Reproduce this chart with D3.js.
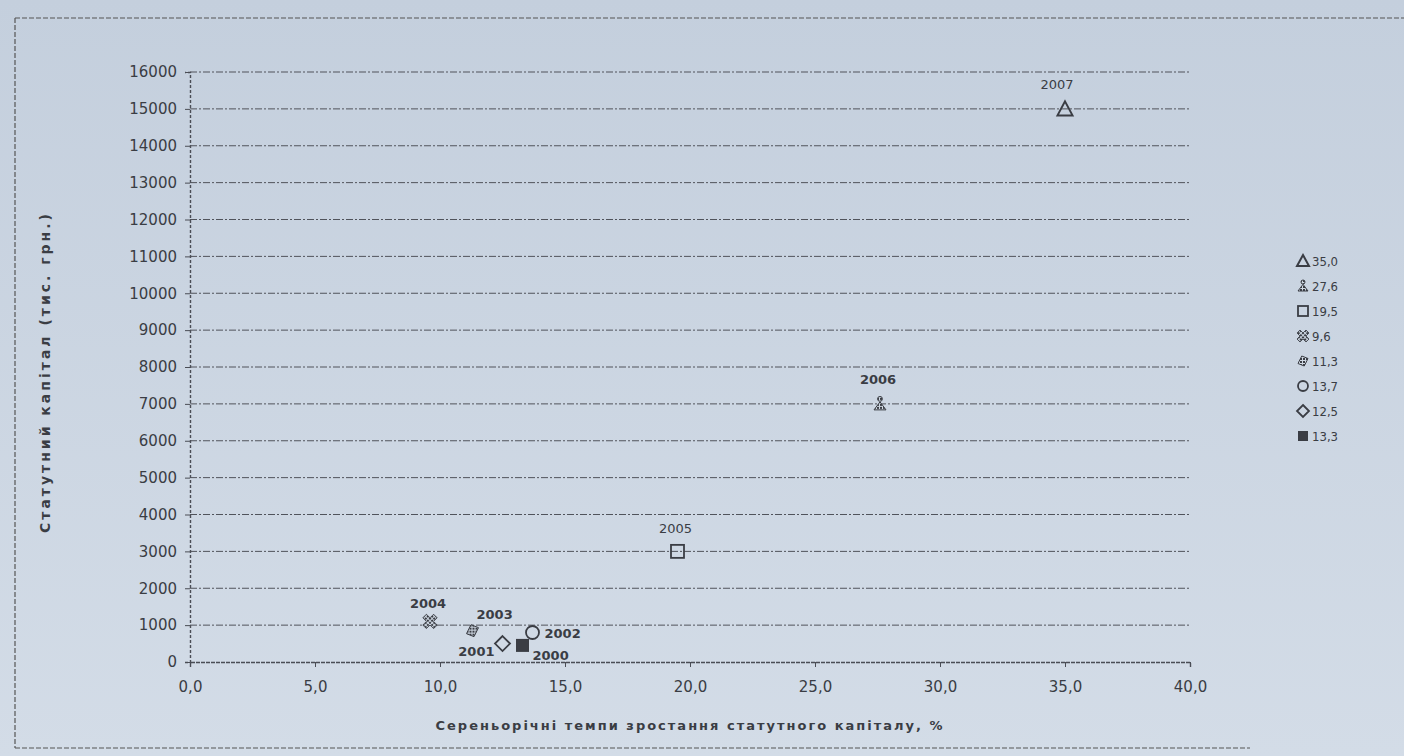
<!DOCTYPE html>
<html><head><meta charset="utf-8">
<script src="https://cdn.jsdelivr.net/npm/d3@7"></script>
<style>
html,body{margin:0;padding:0;background:#cdd6e2;}
svg{display:block;}
text{font-family:"DejaVu Sans",sans-serif;fill:#3a3d44;}
</style></head><body>
<svg id="c" width="1404" height="756"></svg>
<script>
const years = ["2000","2001","2002","2003","2004","2005","2006","2007"];
const growth = [13.3, 12.5, 13.7, 11.3, 9.6, 19.5, 27.6, 35.0];
const capital = [450, 500, 800, 850, 1100, 3000, 7000, 15000];
const symbols = ["filledSquare","diamond","circle","cross","star","square","wye","triangle"];
const legendOrder = [7,6,5,4,3,2,1,0];
const legendLabels = ["35,0","27,6","19,5","9,6","11,3","13,7","12,5","13,3"];
const xTicks = [0,5,10,15,20,25,30,35,40];
const yTicks = d3.range(0,16001,1000);

const svg = d3.select("#c");
const W=1404,H=756;
const defs=svg.append("defs");
const g0=defs.append("linearGradient").attr("id","bg").attr("x1","0").attr("y1","0").attr("x2","0").attr("y2","1");
g0.append("stop").attr("offset","0").attr("stop-color","#c4cfdd");
g0.append("stop").attr("offset","1").attr("stop-color","#d3dce7");
const pat=defs.append("pattern").attr("id","hatch").attr("width",3).attr("height",3).attr("patternUnits","userSpaceOnUse");
pat.append("rect").attr("width",3).attr("height",3).attr("fill","#cfd8e3");
pat.append("rect").attr("width",2).attr("height",2).attr("fill","#3a3d44");
svg.append("rect").attr("width",W).attr("height",H).attr("fill","url(#bg)");

// frame
svg.append("path").attr("d","M15,18 L1404,18 M15,18 L15,748 M15,748 L1250,748")
  .attr("stroke","#555").attr("stroke-width",1.2).attr("stroke-dasharray","5,2").attr("fill","none");

const x=d3.scaleLinear().domain([0,40]).range([190,1190]);
const y=d3.scaleLinear().domain([0,16000]).range([662,72]);

// gridlines
svg.append("g").selectAll("line").data(yTicks.filter(d=>d>0)).join("line")
  .attr("x1",x(0)).attr("x2",x(40)).attr("y1",d=>y(d)).attr("y2",d=>y(d))
  .attr("stroke","#50535b").attr("stroke-width",1).attr("stroke-dasharray","7,2,2,2");

// y axis
const ya=svg.append("g").attr("transform",`translate(${x(0)},0)`)
  .call(d3.axisLeft(y).tickValues(yTicks).tickSize(5).tickPadding(8).tickFormat(d3.format("d")));
ya.select(".domain").attr("stroke","#4a4d55").attr("stroke-dasharray","3,2").attr("stroke-width",1.4);
ya.selectAll(".tick line").attr("stroke","#4a4d55");
ya.selectAll("text").style("font-family","DejaVu Sans").style("font-size","15px").attr("fill","#3a3d44");

// x axis
const xa=svg.append("g").attr("transform",`translate(0,${y(0)})`)
  .call(d3.axisBottom(x).tickValues(xTicks).tickSize(5).tickPadding(14).tickFormat(d=>d3.format(".1f")(d).replace(".",",")));
xa.select(".domain").attr("stroke","#4a4d55").attr("stroke-width",1.4).attr("stroke-dasharray","4,1");
xa.selectAll(".tick line").attr("stroke","#4a4d55");
xa.selectAll("text").style("font-family","DejaVu Sans").style("font-size","15px").attr("fill","#3a3d44");

// axis titles
svg.append("text").attr("x",690).attr("y",730).attr("text-anchor","middle")
  .style("font-size","13px").style("font-weight","bold").style("letter-spacing","2px")
  .text("Сереньорічні темпи зростання статутного капіталу, %");
svg.append("text").attr("transform","translate(50,372) rotate(-90)").attr("text-anchor","middle")
  .style("font-size","14px").style("font-weight","bold").style("letter-spacing","3px")
  .text("Статутний капітал (тис. грн.)");

function marker(g,type,size){
  const s=size;
  const stroke="#3a3d44";
  if(type==="filledSquare"){g.append("rect").attr("x",-s/2).attr("y",-s/2).attr("width",s).attr("height",s).attr("fill",stroke);}
  else if(type==="square"){g.append("rect").attr("x",-s/2).attr("y",-s/2).attr("width",s).attr("height",s).attr("fill","none").attr("stroke",stroke).attr("stroke-width",1.8);}
  else if(type==="circle"){g.append("circle").attr("r",s/2).attr("fill","none").attr("stroke",stroke).attr("stroke-width",1.8);}
  else if(type==="diamond"){g.append("path").attr("d",`M0,${-s/2-1}L${s/2+1},0L0,${s/2+1}L${-s/2-1},0Z`).attr("fill","none").attr("stroke",stroke).attr("stroke-width",1.8);}
  else if(type==="triangle"){g.append("path").attr("d",`M0,${-s/2-1}L${s/2+1},${s/2}L${-s/2-1},${s/2}Z`).attr("fill","none").attr("stroke",stroke).attr("stroke-width",2);}
  else if(type==="cross"){g.append("path").attr("d",`M${-s/2},${s/4}L${-s/8},${-s/2}L${s/2},${-s/4}L${s/8},${s/2}Z`).attr("fill","url(#hatch)").attr("stroke",stroke).attr("stroke-width",1);}
  else if(type==="star"){g.append("path").attr("d",d3.symbol(d3.symbolCross,s*s*0.9)()).attr("transform","rotate(45)").attr("fill","url(#hatch)").attr("stroke",stroke).attr("stroke-width",0.8);}
  else if(type==="wye"){
    g.append("path").attr("d",`M${-s/2},${s/2}L0,${-s/6}L${s/2},${s/2}Z`).attr("fill","url(#hatch)").attr("stroke",stroke).attr("stroke-width",1);
    g.append("circle").attr("cy",-s/2+1).attr("r",s/5).attr("fill","url(#hatch)").attr("stroke",stroke).attr("stroke-width",1);
  }
}

const labelOffsets = {"2000":[10,15,"start"],"2001":[-8,12,"end"],"2002":[12,5,"start"],"2003":[4,-12,"start"],
  "2004":[-2,-13,"middle"],"2005":[-2,-18,"middle"],"2006":[-2,-20,"middle"],"2007":[-8,-20,"middle"]};
years.forEach((yr,i)=>{
  const g=svg.append("g").attr("transform",`translate(${x(growth[i])},${y(capital[i])})`);
  marker(g,symbols[i],symbols[i]==="star"||symbols[i]==="cross"||symbols[i]==="wye"?12:13);
  const o=labelOffsets[yr];
  svg.append("text").attr("x",x(growth[i])+o[0]).attr("y",y(capital[i])+o[1]).attr("text-anchor",o[2])
    .style("font-size","13px").style("font-weight", (i<5||i===6)?"bold":"normal").text(yr);
});

legendOrder.forEach((idx,k)=>{
  const ly=261+k*25;
  const g=svg.append("g").attr("transform",`translate(1303,${ly})`);
  marker(g,symbols[idx],10);
  svg.append("text").attr("x",1312).attr("y",ly+5).style("font-size","13px").style("font-family","Liberation Sans Narrow, DejaVu Sans Condensed, DejaVu Sans")
    .text(legendLabels[k]);
});
</script>
</body></html>
